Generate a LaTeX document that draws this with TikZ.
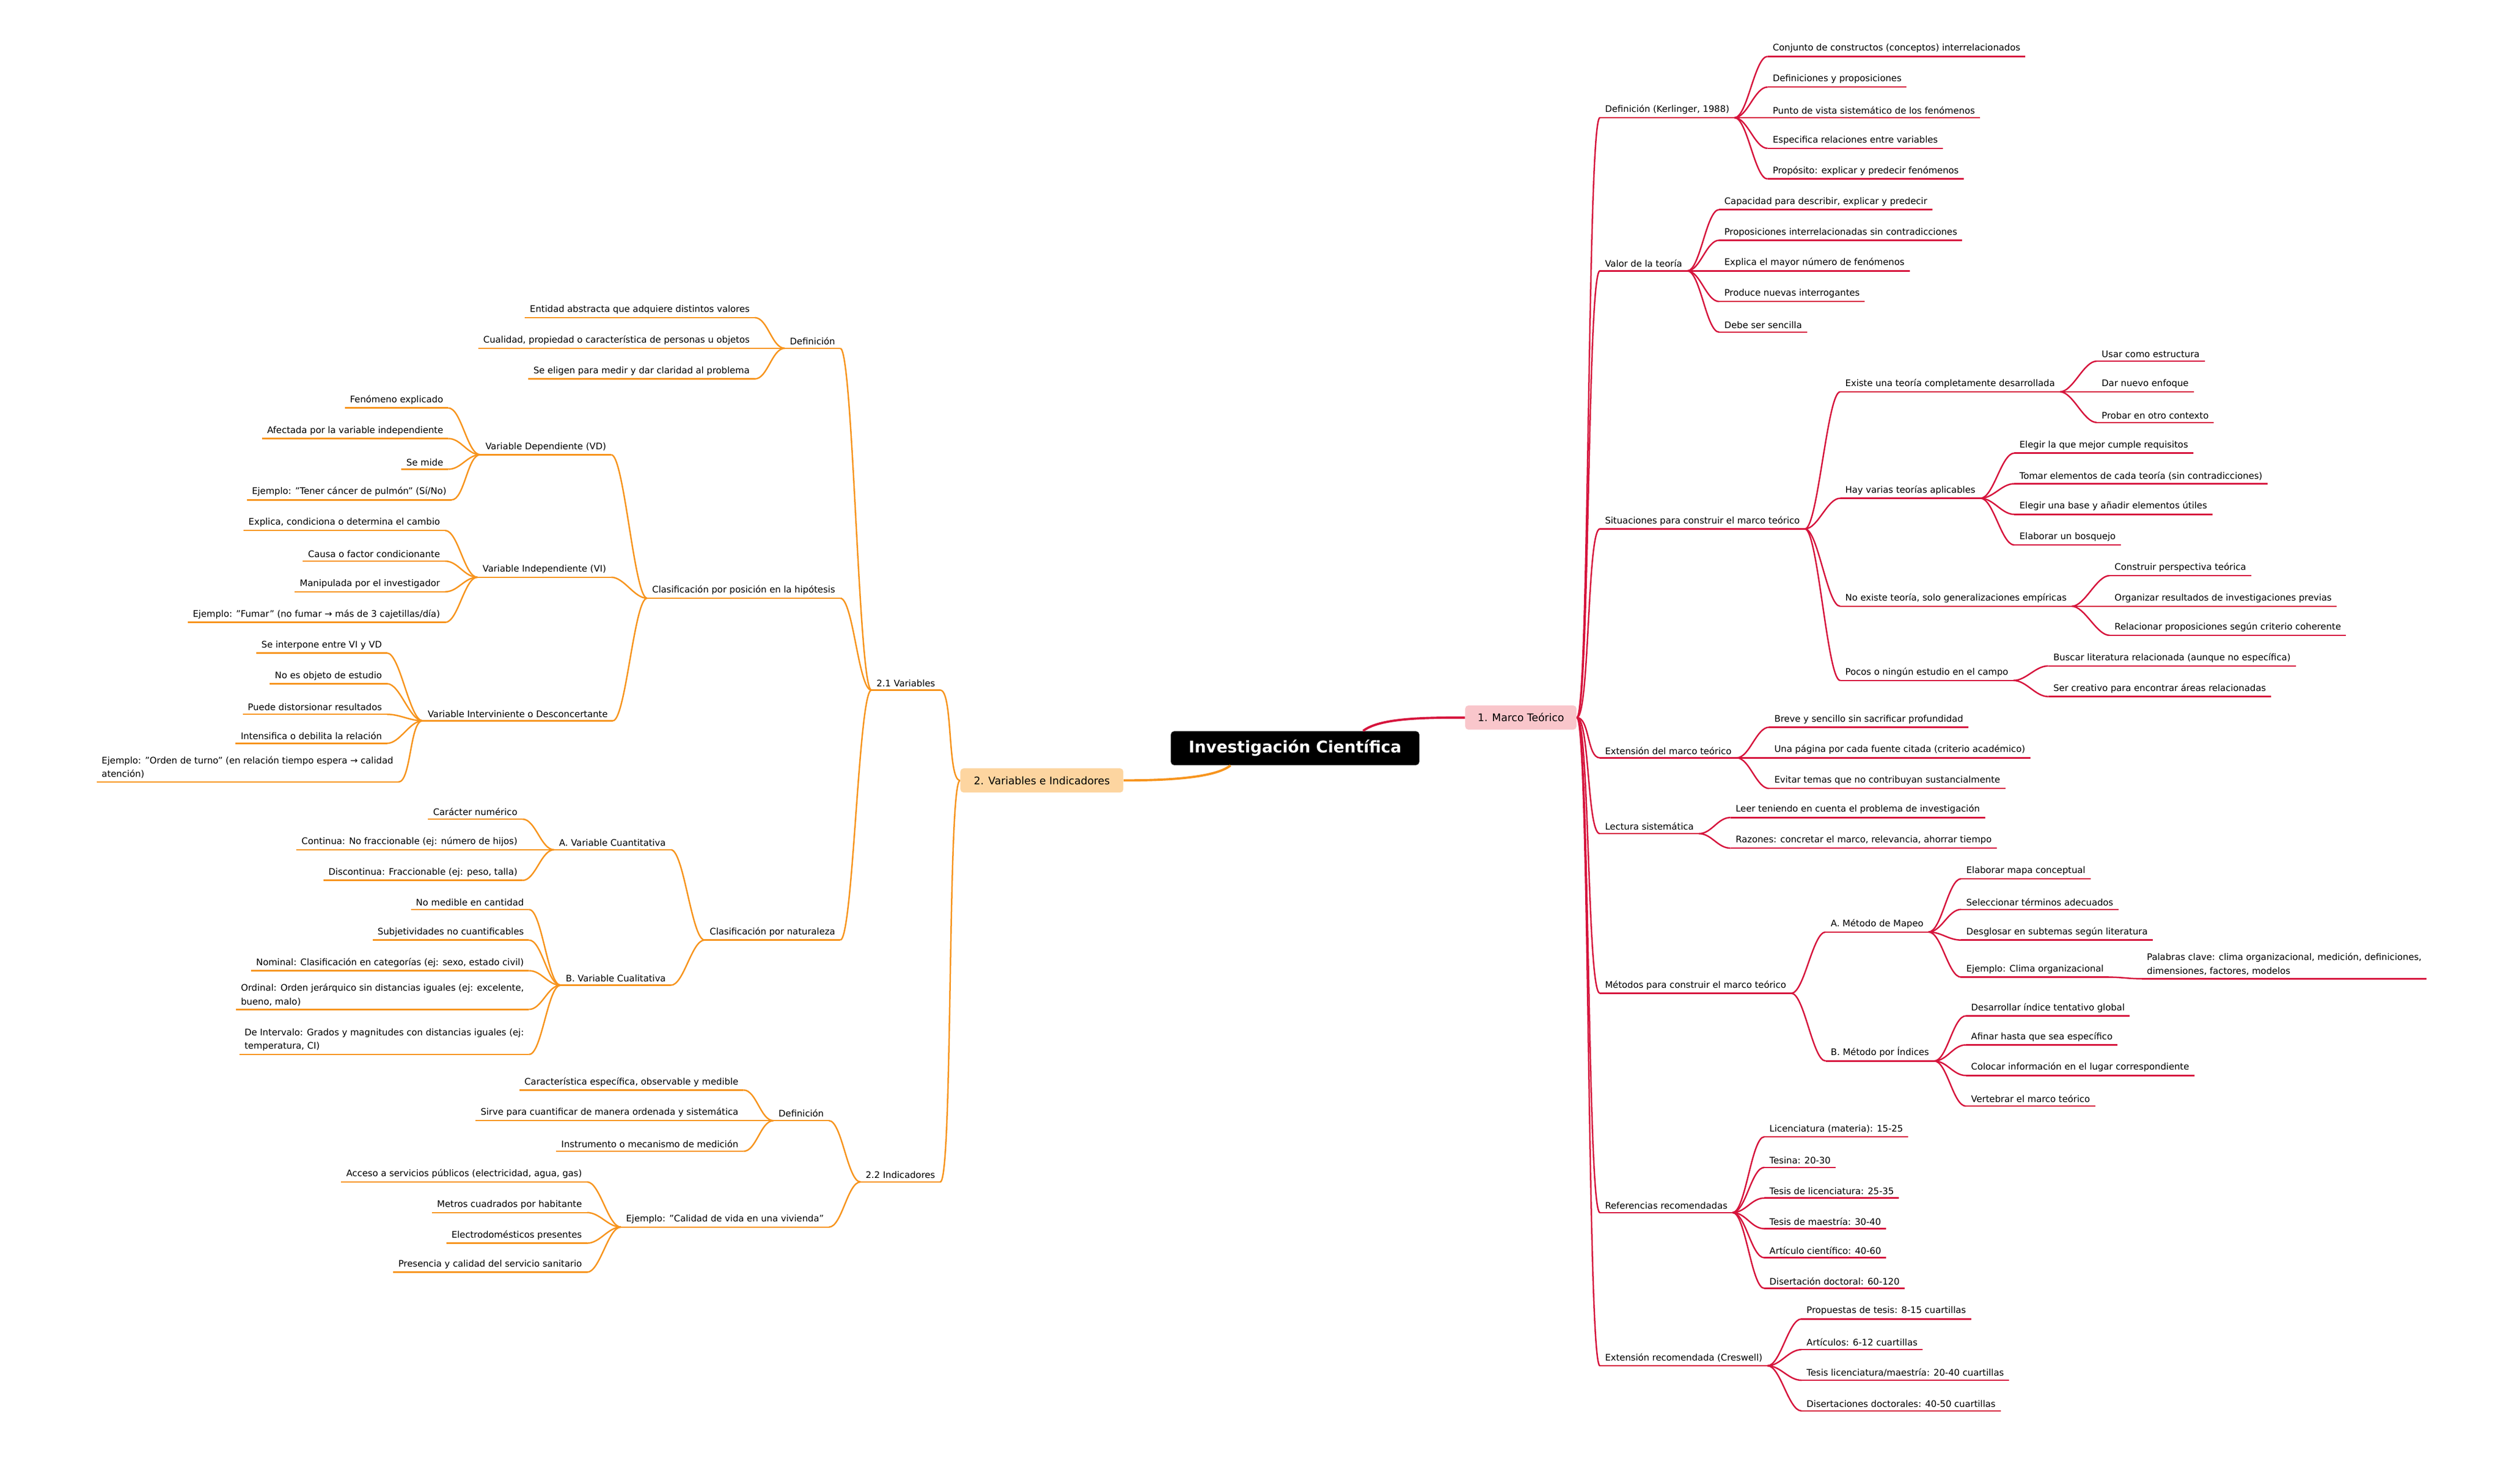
\documentclass[tikz,border=0pt]{standalone}
\usepackage{fontspec}
\setmainfont{DejaVu Sans}
\definecolor{cr}{HTML}{D6143C}
\definecolor{co}{HTML}{F7941D}
\definecolor{pk}{HTML}{F9C6CB}
\definecolor{po}{HTML}{FDD5A0}
\tikzset{leaf/.style={inner xsep=3pt,inner ysep=2pt,align=left,font=\fontsize{5.6}{8.5}\selectfont},
 rl/.style={cr,line width=0.9pt},ol/.style={co,line width=0.9pt}}
\newcommand\RN[5]{\node[leaf,anchor=south west,xshift=-3pt] (#1) at (#3,#4+8) {#5};
 \draw[rl] (#1.south west) -- (#1.south east);
 \draw[rl] (#2) .. controls +(8,0) and +(-8,0) .. (#1.south west);}
\newcommand\LN[5]{\node[leaf,anchor=south east,xshift=3pt] (#1) at (#3,#4+8) {#5};
 \draw[ol] (#1.south west) -- (#1.south east);
 \draw[ol] (#2) .. controls +(-8,0) and +(8,0) .. (#1.south east);}
\begin{document}
\begin{tikzpicture}[x=1pt,y=-1pt]
\useasboundingbox[fill=white] (0,0) rectangle (1552,920);
\node[fill=black,text=white,font=\bfseries\fontsize{10}{12}\selectfont,rounded corners=2pt,minimum width=154pt,minimum height=21pt] (root) at (803,464) {Investigación Científica};
\node[fill=pk,rounded corners=2pt,font=\fontsize{6.5}{8}\selectfont,minimum width=69pt,minimum height=15pt] (mt) at (943,445) {1. Marco Teórico};
\node[fill=po,rounded corners=2pt,font=\fontsize{6.5}{8}\selectfont,minimum width=101pt,minimum height=15pt] (vi) at (646,484) {2. Variables e Indicadores};
\draw[rl,line width=1.4pt] ([xshift=-35pt]root.north east) .. controls +(10,-8) and +(-25,0) .. (mt.west);
\draw[ol,line width=1.4pt] ([xshift=-40pt]root.south) .. controls +(-10,8) and +(25,0) .. (vi.east);
% right
\RN{a1}{mt.east}{995}{65}{Definición (Kerlinger, 1988)}
\RN{a11}{a1.south east}{1099}{27}{Conjunto de constructos (conceptos) interrelacionados}
\RN{a12}{a1.south east}{1099}{46}{Definiciones y proposiciones}
\RN{a13}{a1.south east}{1099}{65}{Punto de vista sistemático de los fenómenos}
\RN{a14}{a1.south east}{1099}{84}{Especifica relaciones entre variables}
\RN{a15}{a1.south east}{1099}{103}{Propósito: explicar y predecir fenómenos}
\RN{a2}{mt.east}{995}{160}{Valor de la teoría}
\RN{a21}{a2.south east}{1069}{122}{Capacidad para describir, explicar y predecir}
\RN{a22}{a2.south east}{1069}{141}{Proposiciones interrelacionadas sin contradicciones}
\RN{a23}{a2.south east}{1069}{160}{Explica el mayor número de fenómenos}
\RN{a24}{a2.south east}{1069}{179}{Produce nuevas interrogantes}
\RN{a25}{a2.south east}{1069}{198}{Debe ser sencilla}
\RN{a3}{mt.east}{995}{320}{Situaciones para construir el marco teórico}
\RN{b1}{a3.south east}{1144}{235}{Existe una teoría completamente desarrollada}
\RN{b11}{b1.south east}{1303}{216}{Usar como estructura}
\RN{b12}{b1.south east}{1303}{235}{Dar nuevo enfoque}
\RN{b13}{b1.south east}{1303}{254}{Probar en otro contexto}
\RN{b2}{a3.south east}{1144}{301}{Hay varias teorías aplicables}
\RN{b21}{b2.south east}{1252}{273}{Elegir la que mejor cumple requisitos}
\RN{b22}{b2.south east}{1252}{292}{Tomar elementos de cada teoría (sin contradicciones)}
\RN{b23}{b2.south east}{1252}{311}{Elegir una base y añadir elementos útiles}
\RN{b24}{b2.south east}{1252}{330}{Elaborar un bosquejo}
\RN{b3}{a3.south east}{1144}{368}{No existe teoría, solo generalizaciones empíricas}
\RN{b31}{b3.south east}{1311}{349}{Construir perspectiva teórica}
\RN{b32}{b3.south east}{1311}{368}{Organizar resultados de investigaciones previas}
\RN{b33}{b3.south east}{1311}{386}{Relacionar proposiciones según criterio coherente}
\RN{b4}{a3.south east}{1144}{414}{Pocos o ningún estudio en el campo}
\RN{b41}{b4.south east}{1273}{405}{Buscar literatura relacionada (aunque no específica)}
\RN{b42}{b4.south east}{1273}{424}{Ser creativo para encontrar áreas relacionadas}
\RN{a4}{mt.east}{995}{462}{Extensión del marco teórico}
\RN{a41}{a4.south east}{1100}{443}{Breve y sencillo sin sacrificar profundidad}
\RN{a42}{a4.south east}{1100}{462}{Una página por cada fuente citada (criterio académico)}
\RN{a43}{a4.south east}{1100}{481}{Evitar temas que no contribuyan sustancialmente}
\RN{a5}{mt.east}{995}{509}{Lectura sistemática}
\RN{a51}{a5.south east}{1076}{499}{Leer teniendo en cuenta el problema de investigación}
\RN{a52}{a5.south east}{1076}{518}{Razones: concretar el marco, relevancia, ahorrar tiempo}
\RN{a6}{mt.east}{995}{608}{Métodos para construir el marco teórico}
\RN{c1}{a6.south east}{1135}{570}{A. Método de Mapeo}
\RN{c11}{c1.south east}{1219}{537}{Elaborar mapa conceptual}
\RN{c12}{c1.south east}{1219}{556}{Seleccionar términos adecuados}
\RN{c13}{c1.south east}{1219}{575}{Desglosar en subtemas según literatura}
\RN{c14}{c1.south east}{1219}{598}{Ejemplo: Clima organizacional}
\RN{c141}{c14.south east}{1331}{599}{Palabras clave: clima organizacional, medición, definiciones,\\dimensiones, factores, modelos}
\RN{c2}{a6.south east}{1135}{650}{B. Método por Índices}
\RN{c21}{c2.south east}{1222}{622}{Desarrollar índice tentativo global}
\RN{c22}{c2.south east}{1222}{640}{Afinar hasta que sea específico}
\RN{c23}{c2.south east}{1222}{659}{Colocar información en el lugar correspondiente}
\RN{c24}{c2.south east}{1222}{678}{Vertebrar el marco teórico}
\RN{a7}{mt.east}{995}{744}{Referencias recomendadas}
\RN{a71}{a7.south east}{1097}{697}{Licenciatura (materia): 15-25}
\RN{a72}{a7.south east}{1097}{716}{Tesina: 20-30}
\RN{a73}{a7.south east}{1097}{735}{Tesis de licenciatura: 25-35}
\RN{a74}{a7.south east}{1097}{754}{Tesis de maestría: 30-40}
\RN{a75}{a7.south east}{1097}{772}{Artículo científico: 40-60}
\RN{a76}{a7.south east}{1097}{791}{Disertación doctoral: 60-120}
\RN{a8}{mt.east}{995}{839}{Extensión recomendada (Creswell)}
\RN{a81}{a8.south east}{1120}{810}{Propuestas de tesis: 8-15 cuartillas}
\RN{a82}{a8.south east}{1120}{829}{Artículos: 6-12 cuartillas}
\RN{a83}{a8.south east}{1120}{848}{Tesis licenciatura/maestría: 20-40 cuartillas}
\RN{a84}{a8.south east}{1120}{867}{Disertaciones doctorales: 40-50 cuartillas}
% left
\LN{v}{vi.west}{580}{420}{2.1 Variables}
\LN{d}{v.south west}{518}{208}{Definición}
\LN{d1}{d.south west}{465}{189}{Entidad abstracta que adquiere distintos valores}
\LN{d2}{d.south west}{465}{208}{Cualidad, propiedad o característica de personas u objetos}
\LN{d3}{d.south west}{465}{227}{Se eligen para medir y dar claridad al problema}
\LN{p}{v.south west}{518}{363}{Clasificación por posición en la hipótesis}
\LN{p1}{p.south west}{376}{274}{Variable Dependiente (VD)}
\LN{p11}{p1.south west}{275}{245}{Fenómeno explicado}
\LN{p12}{p1.south west}{275}{264}{Afectada por la variable independiente}
\LN{p13}{p1.south west}{275}{283}{Se mide}
\LN{p14}{p1.south west}{277}{302}{Ejemplo: "Tener cáncer de pulmón" (Sí/No)}
\LN{p2}{p.south west}{376}{350}{Variable Independiente (VI)}
\LN{p21}{p2.south west}{273}{321}{Explica, condiciona o determina el cambio}
\LN{p22}{p2.south west}{273}{340}{Causa o factor condicionante}
\LN{p23}{p2.south west}{273}{359}{Manipulada por el investigador}
\LN{p24}{p2.south west}{273}{378}{Ejemplo: "Fumar" (no fumar → más de 3 cajetillas/día)}
\LN{p3}{p.south west}{377}{439}{Variable Interviniente o Desconcertante}
\LN{p31}{p3.south west}{237}{397}{Se interpone entre VI y VD}
\LN{p32}{p3.south west}{237}{416}{No es objeto de estudio}
\LN{p33}{p3.south west}{237}{435}{Puede distorsionar resultados}
\LN{p34}{p3.south west}{237}{453}{Intensifica o debilita la relación}
\LN{p35}{p3.south west}{244}{477}{Ejemplo: "Orden de turno" (en relación tiempo espera → calidad\\atención)}
\LN{n}{v.south west}{518}{575}{Clasificación por naturaleza}
\LN{n1}{n.south west}{413}{519}{A. Variable Cuantitativa}
\LN{n11}{n1.south west}{321}{500}{Carácter numérico}
\LN{n12}{n1.south west}{321}{519}{Continua: No fraccionable (ej: número de hijos)}
\LN{n13}{n1.south west}{321}{538}{Discontinua: Fraccionable (ej: peso, talla)}
\LN{n2}{n.south west}{413}{603}{B. Variable Cualitativa}
\LN{n21}{n2.south west}{325}{556}{No medible en cantidad}
\LN{n22}{n2.south west}{325}{575}{Subjetividades no cuantificables}
\LN{n23}{n2.south west}{325}{594}{Nominal: Clasificación en categorías (ej: sexo, estado civil)}
\LN{n24}{n2.south west}{325}{618}{Ordinal: Orden jerárquico sin distancias iguales (ej: excelente,\\bueno, malo)}
\LN{n25}{n2.south west}{325}{646}{De Intervalo: Grados y magnitudes con distancias iguales (ej:\\temperatura, CI)}
\LN{i}{vi.west}{580}{725}{2.2 Indicadores}
\LN{i1}{i.south west}{511}{687}{Definición}
\LN{i11}{i1.south west}{458}{668}{Característica específica, observable y medible}
\LN{i12}{i1.south west}{458}{687}{Sirve para cuantificar de manera ordenada y sistemática}
\LN{i13}{i1.south west}{458}{706}{Instrumento o mecanismo de medición}
\LN{i2}{i.south west}{511}{753}{Ejemplo: "Calidad de vida en una vivienda"}
\LN{i21}{i2.south west}{361}{725}{Acceso a servicios públicos (electricidad, agua, gas)}
\LN{i22}{i2.south west}{361}{744}{Metros cuadrados por habitante}
\LN{i23}{i2.south west}{361}{763}{Electrodomésticos presentes}
\LN{i24}{i2.south west}{361}{781}{Presencia y calidad del servicio sanitario}
\end{tikzpicture}
\end{document}
